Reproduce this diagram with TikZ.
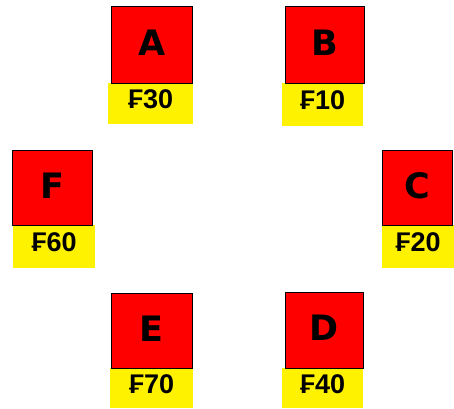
\documentclass[tikz,border=0pt]{standalone}
\usepackage{fontspec}
\setmainfont{Liberation Sans}
\newfontfamily\letterfont{DejaVu Sans}
\begin{document}
\begin{tikzpicture}[x=1pt,y=-1pt,
  redbox/.style={draw=black,line width=0.8pt,fill=red,inner sep=0pt,anchor=north west,
    text depth=5pt,font=\letterfont\fontsize{35}{35}\selectfont\bfseries},
  yelbox/.style={fill=yellow,inner sep=0pt,anchor=north west,
    text depth=9pt,font=\fontsize{27}{27}\selectfont\bfseries}]
\useasboundingbox (0,0) rectangle (454,408);
\clip (0,0) rectangle (454,408);
% A
\node[yelbox,minimum width=85pt,minimum height=41pt] (ya) at (108,83) {₣30};
\node[redbox,minimum width=81pt,minimum height=77pt] (a) at (111,6) {A};
% B
\node[yelbox,minimum width=81pt,minimum height=43pt] (yb) at (282,83) {₣10};
\node[redbox,minimum width=79pt,minimum height=77pt] (b) at (285,6) {B};
% F
\node[yelbox,minimum width=82pt,minimum height=43pt] (yf) at (13,225) {₣60};
\node[redbox,minimum width=80pt,minimum height=75pt] (f) at (12,150) {F};
% C
\node[yelbox,minimum width=72pt,minimum height=43pt] (yc) at (382,225) {₣20};
\node[redbox,minimum width=70pt,minimum height=75pt] (c) at (382,150) {C};
% E
\node[yelbox,minimum width=83pt,minimum height=40pt] (ye) at (110,368) {₣70};
\node[redbox,minimum width=81pt,minimum height=75pt] (e) at (111,293) {E};
% D
\node[yelbox,minimum width=81pt,minimum height=40pt] (yd) at (282,368) {₣40};
\node[redbox,minimum width=78pt,minimum height=76pt] (d) at (285,292) {D};
\end{tikzpicture}
\end{document}
